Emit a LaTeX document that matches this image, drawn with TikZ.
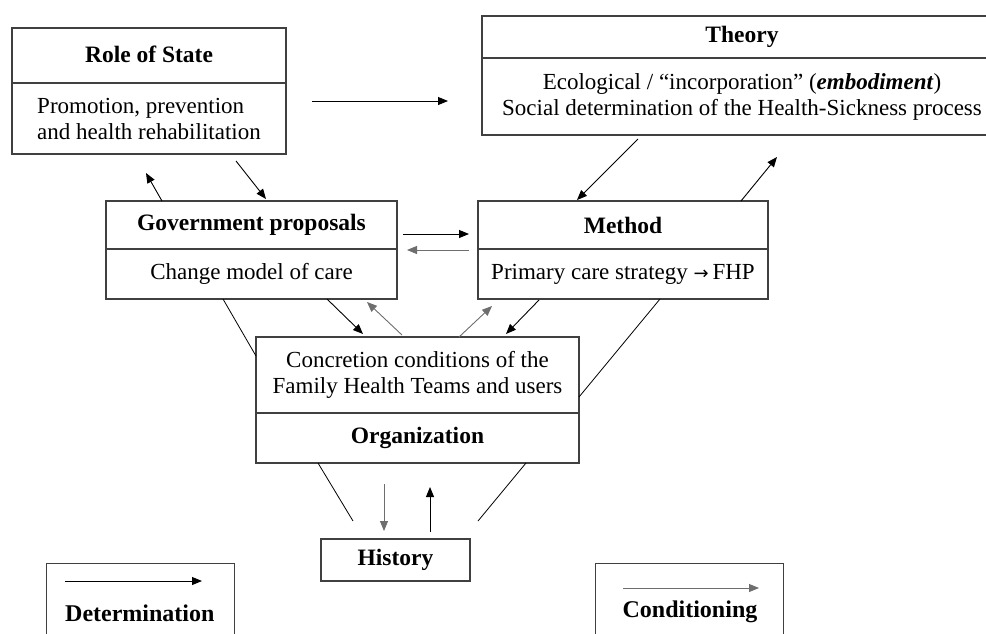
\documentclass[tikz,border=0pt]{standalone}
\usepackage{fontspec}
\setmainfont{Liberation Serif}
\newfontfamily\arrowfont{DejaVu Sans}
\usetikzlibrary{arrows.meta}
\definecolor{boxc}{HTML}{404040}
\definecolor{condc}{HTML}{6E6E6E}
\begin{document}
\begin{tikzpicture}[x=1pt,y=-1pt,
  part/.style={draw=boxc, line width=1.1pt, inner sep=0pt,
    font=\fontsize{23}{26}\selectfont},
  ttl/.style={part, font=\fontsize{23.5}{26}\selectfont\bfseries},
  lbl/.style={inner sep=0pt, font=\fontsize{24}{26}\selectfont\bfseries},
  det/.style={draw=black, line width=0.9pt, -{Triangle[length=10pt,width=8pt]}},
  cond/.style={draw=condc, line width=0.9pt, -{Triangle[length=10pt,width=8pt]}, color=condc},
  plain/.style={draw=black, line width=0.8pt}]
\useasboundingbox (0,0) rectangle (986,633);
\clip (0,0) rectangle (986,633);
\fill[white] (0,0) rectangle (986,633);

% Role of State
\node[ttl, minimum width=274pt, minimum height=55pt] (rsT) at (149,55.5) {\raisebox{2pt}{Role of State}};
\node[part, minimum width=274pt, minimum height=71pt, align=left] (rsB) at (149,118.5)
  {Promotion, prevention\\and health rehabilitation};

% Theory
\node[ttl, minimum width=520pt, minimum height=42pt] (thT) at (742,37) {\raisebox{2pt}{Theory}};
\node[part, minimum width=520pt, minimum height=77pt, align=center] (thB) at (742,96.5)
  {Ecological / “incorporation” (\textbf{\textit{embodiment}})\\Social determination of the Health-Sickness process};

% Government proposals
\node[ttl, minimum width=291pt, minimum height=48pt] (gpT) at (251.5,225) {Government proposals};
\node[part, minimum width=291pt, minimum height=50pt] (gpB) at (251.5,274) {Change model of care};

% Method
\node[ttl, minimum width=290pt, minimum height=48pt] (mT) at (623,225) {Method};
\node[part, minimum width=290pt, minimum height=50pt] (mB) at (623,274)
  {Primary care strategy {\arrowfont\fontsize{18}{20}\selectfont →}\,FHP};

% Organization
\node[part, minimum width=323pt, minimum height=76pt, align=center] (oB) at (417.5,375)
  {Concretion conditions of the\\Family Health Teams and users};
\node[ttl, minimum width=323pt, minimum height=50pt] (oT) at (417.5,438) {Organization};

% History
\node[ttl, minimum width=149pt, minimum height=42pt] (hi) at (395.5,560) {History};

% Legend boxes (cut by the lower edge)
\node[part, minimum width=188pt, minimum height=110pt, anchor=north west] (detbox) at (46,563) {};
\node[part, minimum width=188pt, minimum height=110pt, anchor=north west] (condbox) at (595,563) {};
\node[lbl, anchor=west] (detL) at (65,613) {Determination};
\node[lbl] (condL) at (690,612) {Conditioning};

% connector end points
\coordinate (a1) at (312,101);   \coordinate (a2) at (448,101);
\coordinate (b1) at (162,201);   \coordinate (b2) at (146,173);
\coordinate (c1) at (236,161);   \coordinate (c2) at (266,199);
\coordinate (d1) at (638,139);   \coordinate (d2) at (577,200);
\coordinate (e1) at (741,201);   \coordinate (e2) at (777,157);
\coordinate (f1) at (403,234);   \coordinate (f2) at (469,234);
\coordinate (g1) at (469,250);   \coordinate (g2) at (407,250);
\coordinate (h1) at (327,299);   \coordinate (h2) at (363,334);
\coordinate (i1) at (402,335);   \coordinate (i2) at (367,302);
\coordinate (j1) at (459,337);   \coordinate (j2) at (492,306);
\coordinate (k1) at (539,300);   \coordinate (k2) at (506,334);
\coordinate (l1) at (223,299);   \coordinate (l2) at (256,356);
\coordinate (m1) at (660,299);   \coordinate (m2) at (579,397);
\coordinate (n1) at (318,463);   \coordinate (n2) at (353,521);
\coordinate (o1) at (526,463);   \coordinate (o2) at (478,521);
\coordinate (p1) at (384,484);   \coordinate (p2) at (384,531);
\coordinate (q1) at (430,532);   \coordinate (q2) at (430,487);
\coordinate (r1) at (65,581);    \coordinate (r2) at (202,581);
\coordinate (s1) at (623,588);   \coordinate (s2) at (759,588);

\draw[det] (a1) -- (a2);
\draw[det] (b1) -- (b2);
\draw[det] (c1) -- (c2);
\draw[det] (d1) -- (d2);
\draw[det] (e1) -- (e2);
\draw[det] (f1) -- (f2);
\draw[cond] (g1) -- (g2);
\draw[det] (h1) -- (h2);
\draw[cond] (i1) -- (i2);
\draw[cond] (j1) -- (j2);
\draw[det] (k1) -- (k2);
\draw[plain] (l1) -- (l2);
\draw[plain] (m1) -- (m2);
\draw[plain] (n1) -- (n2);
\draw[plain] (o1) -- (o2);
\draw[cond] (p1) -- (p2);
\draw[det] (q1) -- (q2);
\draw[det] (r1) -- (r2);
\draw[cond] (s1) -- (s2);
\end{tikzpicture}
\end{document}
